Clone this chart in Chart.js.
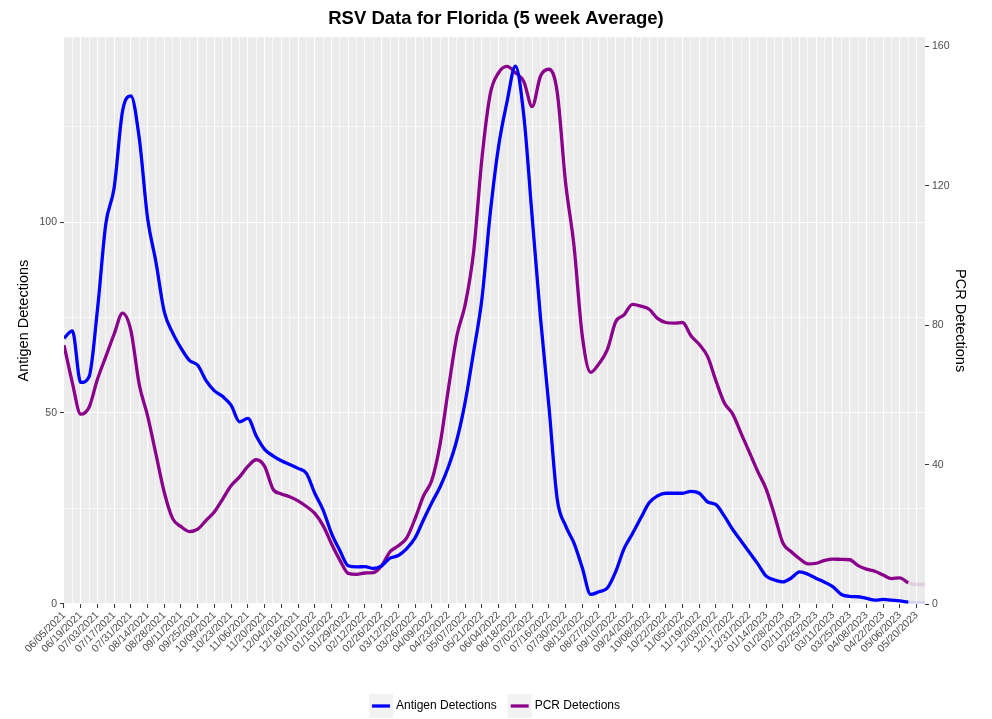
<!DOCTYPE html>
<html>
<head>
<meta charset="utf-8">
<script src="https://cdn.jsdelivr.net/npm/chart.js@4.4.1/dist/chart.umd.min.js"></script>
<style>
  html, body { margin: 0; padding: 0; background: #ffffff; }
  #wrap { width: 992px; height: 719px; }
</style>
</head>
<body>
<div id="wrap"><canvas id="rsvChart"></canvas></div>
<script>
// tick labels, one every two weeks starting 06/05/2021
const tickLabels = [
  "06/05/2021", "06/19/2021", "07/03/2021", "07/17/2021", "07/31/2021", "08/14/2021",
  "08/28/2021", "09/11/2021", "09/25/2021", "10/09/2021", "10/23/2021", "11/06/2021",
  "11/20/2021", "12/04/2021", "12/18/2021", "01/01/2022", "01/15/2022", "01/29/2022",
  "02/12/2022", "02/26/2022", "03/12/2022", "03/26/2022", "04/09/2022", "04/23/2022",
  "05/07/2022", "05/21/2022", "06/04/2022", "06/18/2022", "07/02/2022", "07/16/2022",
  "07/30/2022", "08/13/2022", "08/27/2022", "09/10/2022", "09/24/2022", "10/08/2022",
  "10/22/2022", "11/05/2022", "11/19/2022", "12/03/2022", "12/17/2022", "12/31/2022",
  "01/14/2023", "01/28/2023", "02/11/2023", "02/25/2023", "03/11/2023", "03/25/2023",
  "04/08/2023", "04/22/2023", "05/06/2023", "05/20/2023",
];

// weekly values (week 0 = 06/05/2021), 5 week average
const antigenDetections = [
  69.6, 71.5, 58, 59.5, 77, 99.5, 109, 129, 133, 122,
  101, 89.5, 76.5, 71, 67, 63.8, 62.5, 58.5, 55.8, 54.3,
  52, 47.7, 48.6, 44, 40.5, 38.8, 37.5, 36.5, 35.5, 34.2,
  29, 24.6, 18.5, 14, 10, 9.7, 9.8, 9.3, 10, 12,
  12.7, 14.5, 17.3, 22, 26.5, 30.7, 36, 43, 53, 66,
  80, 102.5, 120, 131.5, 140.8, 128, 101.5, 75, 52, 27.5,
  20.5, 16, 9.5, 2.5, 3.2, 4.2, 8.5, 14.5, 18.4, 22.5,
  26.5, 28.3, 29, 29, 29, 29.5, 29, 26.7, 26, 23,
  19.5, 16.5, 13.5, 10.5, 7.3, 6.3, 5.8, 6.8, 8.4, 7.8,
  6.7, 5.7, 4.5, 2.5, 2, 1.9, 1.5, 1, 1.2, 1,
  0.8, 0.5, 0.3, 0.3,
];

const pcrDetections = [
  74.3, 63.5, 54.5, 56.5, 64.5, 71, 77.5, 83.5, 78.5, 63,
  54, 43, 32, 24.5, 22.2, 20.8, 21.5, 24, 26.5, 30.2,
  34, 36.5, 39.5, 41.4, 39.5, 33, 31.6, 30.8, 29.6, 28,
  26, 22.5, 17.3, 12.6, 8.8, 8.5, 8.9, 9, 11, 15,
  16.7, 19, 24.5, 31, 35.5, 46, 62, 77, 86, 101,
  128, 146.5, 152.5, 154.3, 152.5, 150, 142.8, 151.5, 153.5, 147,
  121, 103, 77, 66.5, 69, 73, 81, 83, 86, 85.5,
  84.6, 82, 80.8, 80.6, 80.8, 77, 74.5, 71, 64, 57.7,
  54.5, 49, 43.5, 38, 33, 25.5, 17.5, 15, 13, 11.5,
  11.7, 12.5, 12.9, 12.8, 12.7, 11, 10, 9.4, 8.3, 7.3,
  7.5, 6.1, 5.6, 5.6,
];

const lastCompleteWeek = 101;

const COLORS = {
  antigen: "#0000ff",
  antigenFaint: "rgba(0, 0, 255, 0.12)",
  pcr: "#8b008b",
  pcrFaint: "rgba(139, 0, 139, 0.12)",
  panel: "#ebebeb",
  grid: "#ffffff",
  tickText: "#4d4d4d",
  tickMark: "#333333",
};

const FONT = "'Liberation Sans', Arial, sans-serif";

function toPoints(values) {
  return values.map((v, i) => ({ x: i, y: v }));
}

// grey panel and grey legend keys, like ggplot
const ggBackground = {
  id: "ggBackground",
  beforeDraw(chart) {
    const { ctx, chartArea } = chart;
    ctx.save();
    ctx.fillStyle = COLORS.panel;
    ctx.fillRect(chartArea.left, chartArea.top, chartArea.right - chartArea.left, chartArea.bottom - chartArea.top);

    const legend = chart.legend;
    if (legend && legend.legendHitBoxes) {
      const boxW = legend.options.labels.pointStyleWidth;
      legend.legendHitBoxes.forEach((hb) => {
        const cx = hb.left + boxW / 2;
        const cy = hb.top + hb.height / 2;
        ctx.fillStyle = "#f2f2f2";
        ctx.fillRect(cx - 12, cy - 12, 24, 24);
      });
    }
    ctx.restore();
  },
};

function faintSegment(faintColor) {
  return (ctx) => (ctx.p0DataIndex >= lastCompleteWeek ? faintColor : undefined);
}

const rsvChart = new Chart(document.getElementById("rsvChart"), {
  type: "line",
  data: {
    datasets: [
      {
        label: "Antigen Detections",
        data: toPoints(antigenDetections),
        yAxisID: "y",
        borderColor: COLORS.antigen,
        backgroundColor: COLORS.antigen,
        borderWidth: 3.3,
        pointRadius: 0,
        cubicInterpolationMode: "monotone",
        segment: { borderColor: faintSegment(COLORS.antigenFaint) },
      },
      {
        label: "PCR Detections",
        data: toPoints(pcrDetections),
        yAxisID: "y1",
        borderColor: COLORS.pcr,
        backgroundColor: COLORS.pcr,
        borderWidth: 3.3,
        pointRadius: 0,
        cubicInterpolationMode: "monotone",
        segment: { borderColor: faintSegment(COLORS.pcrFaint) },
      },
    ],
  },
  options: {
    responsive: true,
    maintainAspectRatio: false,
    animation: false,
    layout: { padding: { top: 0, left: 0, right: 0, bottom: -3 } },
    plugins: {
      title: {
        display: true,
        text: "RSV Data for Florida (5 week Average)",
        color: "#000000",
        font: { family: FONT, size: 18.5, weight: "bold" },
        padding: { top: 8, bottom: 7 },
      },
      legend: {
        position: "bottom",
        labels: {
          color: "#000000",
          font: { family: FONT, size: 12 },
          usePointStyle: true,
          pointStyle: "line",
          pointStyleWidth: 18,
          padding: 14,
        },
      },
      tooltip: { enabled: false },
    },
    scales: {
      x: {
        type: "linear",
        min: 0,
        max: antigenDetections.length - 1,
        afterBuildTicks: (scale) => {
          scale.ticks = antigenDetections.map((_, i) => ({ value: i }));
        },
        afterFit: (scale) => {
          scale.height = 82;
        },
        ticks: {
          autoSkip: false,
          minRotation: 45,
          maxRotation: 45,
          padding: 1,
          color: COLORS.tickText,
          font: { family: FONT, size: 10.5 },
          callback: (v) => (v % 2 === 0 ? tickLabels[v / 2] : ""),
        },
        grid: {
          color: COLORS.grid,
          lineWidth: (ctx) => (ctx.tick && ctx.tick.value % 2 === 0 ? 1.1 : 0.6),
          tickColor: (ctx) => (ctx.tick && ctx.tick.value % 2 === 0 ? COLORS.tickMark : "rgba(0,0,0,0)"),
          tickLength: 4,
          tickWidth: 1,
        },
        border: { display: false },
      },
      y: {
        position: "left",
        min: 0,
        max: 148.4,
        afterBuildTicks: (scale) => {
          scale.ticks = [0, 25, 50, 75, 100, 125].map((v) => ({ value: v }));
        },
        afterFit: (scale) => {
          scale.width = 64;
        },
        ticks: {
          padding: 3,
          color: COLORS.tickText,
          font: { family: FONT, size: 10.5 },
          callback: (v) => (v % 50 === 0 ? v : ""),
        },
        grid: {
          color: COLORS.grid,
          lineWidth: (ctx) => (ctx.tick && ctx.tick.value % 50 === 0 ? 1.1 : 0.6),
          tickColor: (ctx) => (ctx.tick && ctx.tick.value % 50 === 0 ? COLORS.tickMark : "rgba(0,0,0,0)"),
          tickLength: 4,
          tickWidth: 1,
        },
        border: { display: false },
        title: {
          display: true,
          text: "Antigen Detections",
          color: "#000000",
          font: { family: FONT, size: 14.5 },
          padding: { top: 15, bottom: 0 },
        },
      },
      y1: {
        position: "right",
        min: 0,
        max: 162.7,
        afterBuildTicks: (scale) => {
          scale.ticks = [0, 40, 80, 120, 160].map((v) => ({ value: v }));
        },
        afterFit: (scale) => {
          scale.width = 67;
        },
        ticks: {
          padding: 3,
          color: COLORS.tickText,
          font: { family: FONT, size: 10.5 },
        },
        grid: {
          drawOnChartArea: false,
          tickColor: COLORS.tickMark,
          tickLength: 4,
          tickWidth: 1,
        },
        border: { display: false },
        title: {
          display: true,
          text: "PCR Detections",
          color: "#000000",
          font: { family: FONT, size: 14.5 },
          padding: { top: 23, bottom: 0 },
        },
      },
    },
  },
  plugins: [ggBackground],
});
</script>
</body>
</html>
